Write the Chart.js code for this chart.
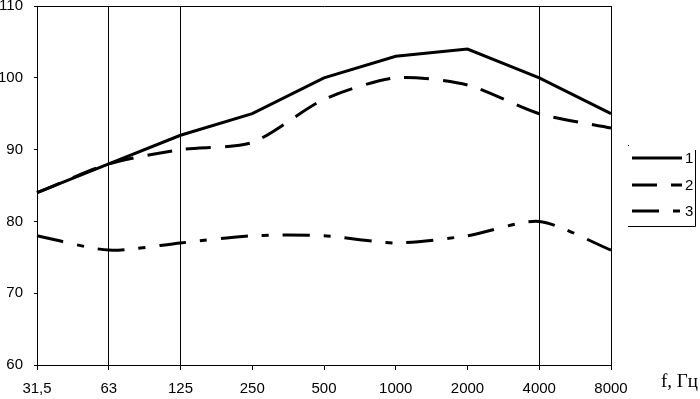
<!DOCTYPE html>
<html>
<head>
<meta charset="utf-8">
<script src="https://cdn.jsdelivr.net/npm/chart.js@4/dist/chart.umd.min.js"></script>
<style>
  html, body { margin: 0; padding: 0; background: #fff; }
  #wrap { width: 700px; height: 399px; position: relative; }
</style>
</head>
<body>
<div id="wrap"><canvas id="levelChart"></canvas></div>
<script>
// частоты, Гц
const freqLabels = ['31,5', '63', '125', '250', '500', '1000', '2000', '4000', '8000'];
const curve1 = [84, 88, 92, 95, 100, 103, 104, 100, 95];
const curve2 = [84, 88, 90, 91, 97, 100, 99, 95, 93];
const curve3 = [78, 76, 77, 78, 78, 77, 78, 80, 76];
const yTicks = [60, 70, 80, 90, 100, 110];
const xTitle = 'f, Гц';

// vertical lines only at these categories (plus the frame)
const solidX = [1, 2, 7, 8];

// legend in a box on the right, like the original
const sideLegend = {
    id: 'sideLegend',
    afterDraw(chart) {
        const c = chart.ctx;
        c.save();
        // frame (right and bottom edge only)
        c.strokeStyle = '#000';
        c.lineWidth = 1;
        c.beginPath();
        c.moveTo(695.5, 150);
        c.lineTo(695.5, 226.5);
        c.lineTo(628, 226.5);
        c.stroke();
        c.fillStyle = '#000';
        c.fillRect(628, 145, 1, 1);

        const rows = [158, 185, 211];
        chart.data.datasets.forEach((ds, i) => {
            const y = rows[i];
            c.strokeStyle = '#000';
            c.lineWidth = 3;
            c.setLineDash(ds.borderDash || []);
            c.beginPath();
            c.moveTo(632, y);
            c.lineTo(682, y);
            c.stroke();
            c.setLineDash([]);
            c.font = '15px "Liberation Sans", Arial, sans-serif';
            c.textAlign = 'left';
            c.textBaseline = 'middle';
            c.fillText(ds.label, 685, y + 1);
        });

        // axis name
        c.font = '19px "Liberation Serif", "Times New Roman", serif';
        c.textAlign = 'right';
        c.textBaseline = 'middle';
        c.fillText(xTitle, 698, 382);
        c.restore();
    }
};

const ctx = document.getElementById('levelChart').getContext('2d');

new Chart(ctx, {
    type: 'line',
    data: {
        labels: freqLabels,
        datasets: [{
            label: '1',
            data: curve1,
            borderColor: '#000',
            borderWidth: 3,
            tension: 0,
            pointRadius: 0
        }, {
            label: '2',
            data: curve2,
            borderColor: '#000',
            borderWidth: 3,
            borderDash: [25, 14],
            tension: 0.25,
            pointRadius: 0
        }, {
            label: '3',
            data: curve3,
            borderColor: '#000',
            borderWidth: 3,
            borderDash: [27, 14, 7, 14],
            tension: 0.25,
            pointRadius: 0
        }]
    },
    options: {
        responsive: true,
        maintainAspectRatio: false,
        animation: false,
        layout: {
            padding: { top: 6, right: 89, left: 0, bottom: 0 }
        },
        scales: {
            x: {
                offset: false,
                afterFit(scale) { scale.height = 34; },
                border: { display: true, color: '#000', width: 1 },
                grid: {
                    color: c => solidX.includes(c.index) ? '#000' : 'rgba(0,0,0,0)',
                    tickColor: '#000',
                    tickLength: 5,
                    lineWidth: 1
                },
                ticks: {
                    color: '#000',
                    maxRotation: 0,
                    autoSkip: false,
                    padding: 10,
                    font: { family: '"Liberation Sans", Arial, sans-serif', size: 15 }
                }
            },
            y: {
                min: 60,
                max: 110,
                afterFit(scale) {
                    scale.width = 37;
                    scale.paddingTop = 0;
                    scale.paddingBottom = 0;
                },
                afterBuildTicks(scale) { scale.ticks = yTicks.map(v => ({ value: v })); },
                border: { display: true, color: '#000', width: 1 },
                grid: {
                    color: c => c.tick && c.tick.value === 110 ? '#000' : 'rgba(0,0,0,0)',
                    tickColor: '#000',
                    tickLength: 3,
                    lineWidth: 1
                },
                ticks: {
                    color: '#000',
                    padding: 11,
                    font: { family: '"Liberation Sans", Arial, sans-serif', size: 15 }
                }
            }
        },
        plugins: {
            legend: { display: false },
            tooltip: { enabled: false }
        }
    },
    plugins: [sideLegend]
});
</script>
</body>
</html>
